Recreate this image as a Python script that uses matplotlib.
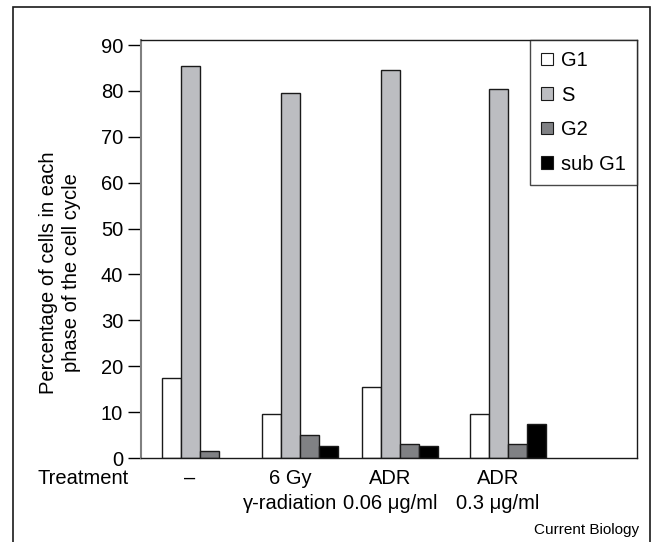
import numpy as np
import matplotlib
matplotlib.use("Agg")
import matplotlib.pyplot as plt
from matplotlib.patches import Rectangle

plt.rcParams["font.family"] = ["Liberation Sans", "DejaVu Sans"]

# ---------- data ----------
treatments = ["\u2013", "6 Gy\n\u03b3-radiation", "ADR\n0.06 \u03bcg/ml", "ADR\n0.3 \u03bcg/ml"]
phases = ["G1", "S", "G2", "sub G1"]
g1 = [17.4, 9.5, 15.4, 9.5]
s_phase = [85.5, 79.5, 84.5, 80.5]
g2 = [1.6, 5.0, 3.1, 3.1]
sub_g1 = [0.0, 2.6, 2.6, 7.4]

colors = ["#ffffff", "#bcbdc1", "#808184", "#000000"]
FS = 14.5

# ---------- figure ----------
fig = plt.figure(figsize=(6.56, 5.42), dpi=100)
ax = fig.add_axes([141 / 656, 84 / 542, 496 / 656, 418 / 542])

centers = np.array([0.0, 1.0, 2.0, 3.08])
width = 0.19
series = [g1, s_phase, g2, sub_g1]
for i, (vals, name, col) in enumerate(zip(series, phases, colors)):
    x = centers + (i - 1.5) * width
    lws = [1.0 if v > 0 else 0.0 for v in vals]
    ax.bar(x, vals, width=width, color=col, edgecolor="#1a1a1a",
           linewidth=lws, label=name)

ax.set_xlim(-0.59, 4.37)
ax.set_ylim(0, 91.1)
ax.set_yticks(np.arange(0, 91, 10))
ax.tick_params(axis="y", direction="out", length=9.4, width=1.0,
               labelsize=FS, pad=3.5, colors="black")
ax.set_xticks(centers - 0.1)
ax.set_xticklabels(treatments, fontsize=FS, linespacing=1.4)
ax.tick_params(axis="x", length=0, pad=8)

for side in ["top", "right", "bottom"]:
    ax.spines[side].set_color("#1a1a1a")
    ax.spines[side].set_linewidth(1.0)
ax.spines["left"].set_color("#808080")
ax.spines["left"].set_linewidth(1.5)

ax.set_ylabel("Percentage of cells in each\nphase of the cell cycle",
              fontsize=FS, linespacing=1.25)
ax.yaxis.set_label_coords((81 - 141) / 496, (458 - 273) / 418)

leg = ax.legend(loc="upper right", borderaxespad=0, fancybox=False,
                fontsize=FS, handlelength=0.6, handleheight=0.6,
                handletextpad=0.4, labelspacing=0.77, borderpad=0.55,
                frameon=True)
leg.get_frame().set_edgecolor("#1a1a1a")
leg.get_frame().set_linewidth(1.0)
for h in leg.legend_handles:
    h.set_edgecolor("#1a1a1a")
    h.set_linewidth(0.8)

fig.text(83 / 656, 1 - 479 / 542, "Treatment", fontsize=FS,
         ha="center", va="center")
fig.text(639 / 656, 1 - 530 / 542, "Current Biology", fontsize=11,
         ha="right", va="center")

# outer frame
fig.add_artist(Rectangle((13 / 656, -0.01), (650 - 13) / 656, 1.01 - 7 / 542,
                         transform=fig.transFigure, fill=False,
                         edgecolor="#1a1a1a", linewidth=1.2))

fig.savefig("out.png", dpi=100)
